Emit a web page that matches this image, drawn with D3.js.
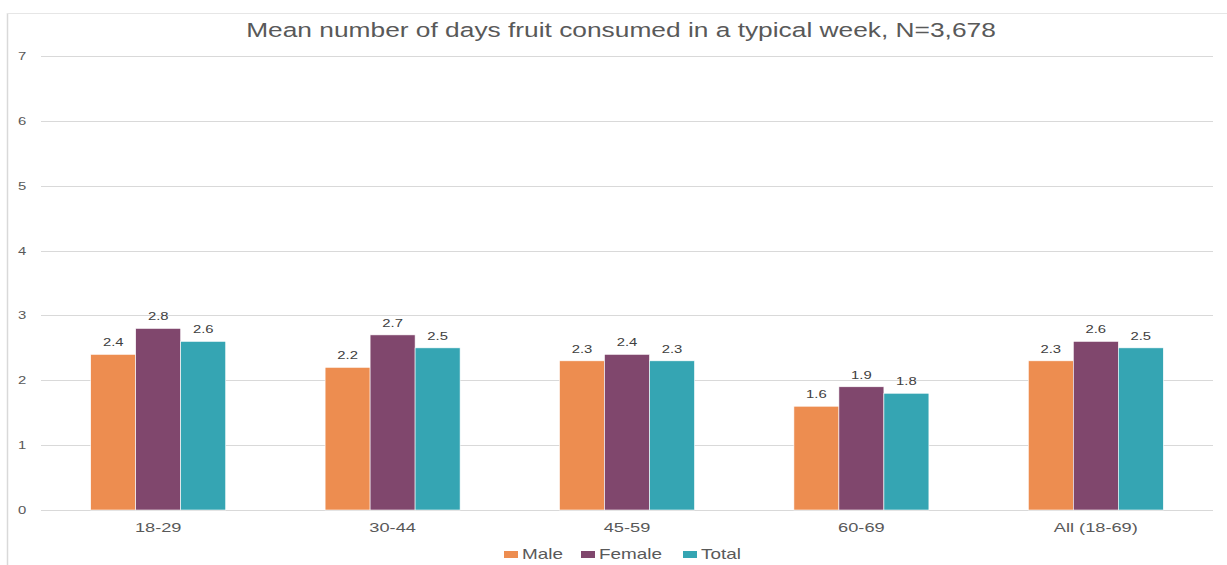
<!DOCTYPE html>
<html>
<head>
<meta charset="utf-8">
<script src="https://cdn.jsdelivr.net/npm/d3@7"></script>
<style>
  body { margin: 0; background: #fff; }
  text { font-family: "Liberation Sans", Arial, sans-serif; }
</style>
</head>
<body>
<div id="chart"></div>
<script>
var categories = ["18-29", "30-44", "45-59", "60-69", "All (18-69)"];
var seriesNames = ["Male", "Female", "Total"];
var male = [2.4, 2.2, 2.3, 1.6, 2.3];
var female = [2.8, 2.7, 2.4, 1.9, 2.6];
var total = [2.6, 2.5, 2.3, 1.8, 2.5];
var yTicks = [0, 1, 2, 3, 4, 5, 6, 7];
var colors = ["#ED8D50", "#80476D", "#35A5B3"];

var W = 1227, H = 565;
var SX = 1.35; // the original picture is stretched sideways
var margin = {top: 56, right: 14, bottom: 55, left: 41},
    width = W - margin.left - margin.right,
    height = H - margin.top - margin.bottom;

var svg = d3.select("#chart").append("svg")
    .attr("width", W)
    .attr("height", H);

function stretch(sel, x, y) {
    return sel.attr("transform", "translate(" + x + "," + y + ") scale(" + SX + ",1)");
}

// outer frame (left + top)
svg.append("line").attr("x1", 7.5).attr("x2", 7.5).attr("y1", 13).attr("y2", H)
    .attr("stroke", "#d9d9d9").attr("stroke-width", 1.5);
svg.append("line").attr("x1", 7).attr("x2", W).attr("y1", 13.5).attr("y2", 13.5)
    .attr("stroke", "#e6e6e6").attr("stroke-width", 1);

stretch(svg.append("text"), 621, 37)
    .attr("text-anchor", "middle")
    .attr("fill", "#595959")
    .style("font-size", "19.5px")
    .text("Mean number of days fruit consumed in a typical week, N=3,678");

var g = svg.append("g")
    .attr("transform", "translate(" + margin.left + "," + margin.top + ")");

var x = d3.scaleBand().domain(categories).range([0, width]);
var x1 = d3.scaleBand().domain(seriesNames).range([0, 135])
    .paddingInner(0).paddingOuter(0);
var y = d3.scaleLinear().domain([0, 7]).range([height, 0]);

// gridlines
g.append("g").selectAll("line")
    .data(yTicks).enter().append("line")
    .attr("x1", 0).attr("x2", width)
    .attr("y1", function(d) { return Math.round(y(d)) + 0.5; })
    .attr("y2", function(d) { return Math.round(y(d)) + 0.5; })
    .attr("stroke", "#d9d9d9").attr("stroke-width", 1);

var yAxis = g.append("g")
    .call(d3.axisLeft(y).tickValues(yTicks).tickFormat(d3.format("d")).tickSize(0));
yAxis.select(".domain").remove();
yAxis.selectAll("text")
    .attr("fill", "#595959")
    .style("font-size", "11px")
    .style("font-family", "Liberation Sans, Arial, sans-serif")
    .attr("text-anchor", "middle")
    .attr("x", 0)
    .attr("transform", "translate(-19,0) scale(" + SX + ",1)");

var series = [male, female, total];
var rows = [];
categories.forEach(function(c, i) {
    seriesNames.forEach(function(s, j) {
        rows.push({cat: c, name: s, value: series[j][i], j: j});
    });
});

var barOffset = (x.bandwidth() - 135) / 2;

g.append("g").selectAll("rect")
    .data(rows).enter().append("rect")
    .attr("x", function(d) { return x(d.cat) + barOffset + x1(d.name); })
    .attr("width", x1.bandwidth())
    .attr("y", function(d) { return y(d.value); })
    .attr("height", function(d) { return height - y(d.value); })
    .attr("fill", function(d) { return colors[d.j]; })
    .attr("stroke", "#fff").attr("stroke-width", 0.6);

g.append("g").selectAll("text")
    .data(rows).enter().append("text")
    .attr("transform", function(d) {
        return "translate(" + (x(d.cat) + barOffset + x1(d.name) + x1.bandwidth() / 2) + "," +
            (y(d.value) - 8) + ") scale(" + SX + ",1)";
    })
    .attr("text-anchor", "middle")
    .attr("fill", "#404040")
    .style("font-size", "11px")
    .text(function(d) { return d.value.toFixed(1); });

var xAxis = g.append("g")
    .attr("transform", "translate(0," + height + ")")
    .call(d3.axisBottom(x).tickSize(0).tickPadding(12));
xAxis.select(".domain").remove();
xAxis.selectAll("text")
    .attr("fill", "#595959")
    .style("font-size", "13.5px")
    .style("font-family", "Liberation Sans, Arial, sans-serif")
    .attr("transform", "scale(" + SX + ",1)");

// legend
var legendX = [504, 581, 683];
var legend = svg.append("g").selectAll("g")
    .data(seriesNames).enter().append("g")
    .attr("transform", function(d, i) { return "translate(" + legendX[i] + ",549)"; });
legend.append("rect")
    .attr("width", 14).attr("height", 7).attr("y", 2)
    .attr("fill", function(d, i) { return colors[i]; });
legend.append("text")
    .attr("transform", "translate(18,10) scale(" + SX + ",1)")
    .attr("fill", "#595959")
    .style("font-size", "14px")
    .text(function(d) { return d; });
</script>
</body>
</html>
